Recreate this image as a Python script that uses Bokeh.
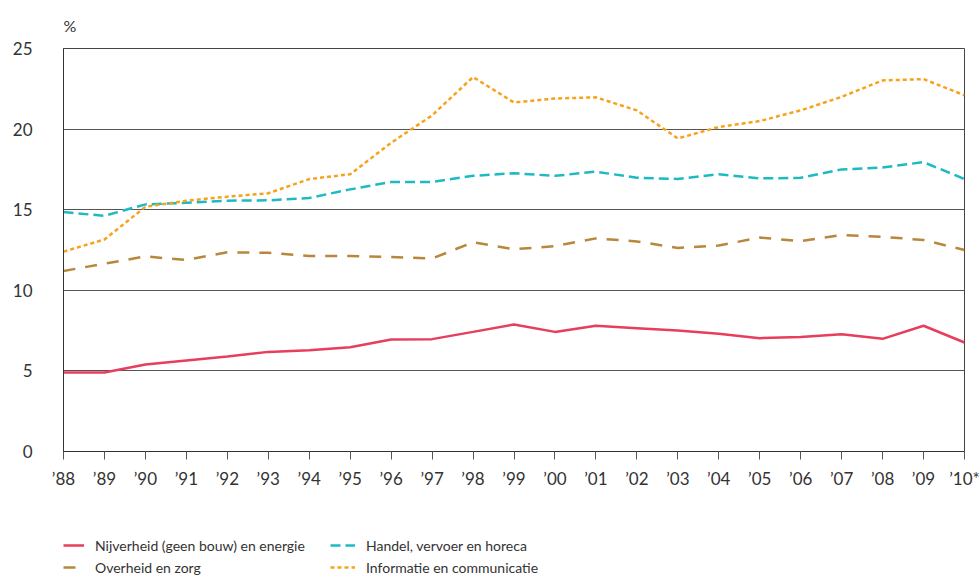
from bokeh.plotting import figure
from bokeh.layouts import column
from bokeh.models import Range1d, FixedTicker, Legend, LegendItem, Title
from bokeh.embed import file_html
from bokeh.resources import INLINE

years = list(range(1988, 2011))
year_labels = ["’88", "’89", "’90", "’91", "’92", "’93", "’94", "’95", "’96", "’97", "’98",
               "’99", "’00", "’01", "’02", "’03", "’04", "’05", "’06", "’07", "’08", "’09", "’10*"]

nijverheid = [4.9, 4.9, 5.4, 5.65, 5.9, 6.18, 6.28, 6.47, 6.95, 6.97, 7.42,
              7.88, 7.42, 7.8, 7.65, 7.5, 7.3, 7.03, 7.1, 7.27, 6.99, 7.8, 6.76]
overheid = [11.2, 11.65, 12.1, 11.88, 12.36, 12.33, 12.13, 12.13, 12.07, 11.97, 12.98,
            12.55, 12.74, 13.22, 13.03, 12.63, 12.78, 13.27, 13.05, 13.43, 13.32, 13.12, 12.5]
handel = [14.85, 14.62, 15.33, 15.43, 15.56, 15.58, 15.73, 16.26, 16.72, 16.72, 17.1,
          17.26, 17.1, 17.36, 16.98, 16.91, 17.2, 16.94, 16.98, 17.5, 17.62, 17.95, 16.9]
informatie = [12.4, 13.15, 15.18, 15.56, 15.81, 16.02, 16.9, 17.2, 19.15, 20.85, 23.23,
              21.65, 21.9, 21.97, 21.16, 19.42, 20.13, 20.5, 21.16, 22.0, 23.02, 23.1, 22.1]

names = ["Nijverheid (geen bouw) en energie", "Overheid en zorg",
         "Handel, vervoer en horeca", "Informatie en communicatie"]
colors = ["#E63E5C", "#B8873B", "#1DBAC4", "#F7A21B"]
dashes = ["solid", "12 10", "10 5", "4 3"]
y_ticks = [0, 5, 10, 15, 20, 25]

FONT = "Lato"
TXT = "#333333"

p = figure(width=980, height=517, output_backend="svg", toolbar_location=None,
           x_range=Range1d(1988, 2010), y_range=Range1d(0, 25),
           min_border_left=63, min_border_right=16, min_border_top=48, min_border_bottom=66,
           background_fill_color="white", border_fill_color="white")

p.outline_line_color = "#444444"
p.outline_line_width = 1

p.xgrid.visible = False
p.ygrid.ticker = FixedTicker(ticks=y_ticks)
p.ygrid.grid_line_color = "#555555"
p.ygrid.grid_line_width = 1

p.xaxis.ticker = FixedTicker(ticks=years)
p.xaxis.major_label_overrides = {y: l for y, l in zip(years, year_labels)}
p.xaxis.major_tick_out = 8
p.xaxis.major_tick_in = 0
p.xaxis.minor_tick_line_color = None
p.xaxis.major_tick_line_color = "#555555"
p.xaxis.axis_line_color = "#333333"
p.xaxis.major_label_text_font = FONT
p.xaxis.major_label_text_font_size = "17px"
p.xaxis.major_label_text_color = TXT
p.xaxis.major_label_standoff = 8

p.yaxis.ticker = FixedTicker(ticks=y_ticks)
p.yaxis.major_tick_out = 0
p.yaxis.major_tick_in = 0
p.yaxis.minor_tick_line_color = None
p.yaxis.axis_line_color = "#333333"
p.yaxis.major_label_text_font = FONT
p.yaxis.major_label_text_font_size = "17px"
p.yaxis.major_label_text_color = TXT
p.yaxis.major_label_standoff = 31

p.add_layout(Title(text="%", text_font=FONT, text_font_size="16px", text_color=TXT,
                   text_font_style="normal", align="left", offset=0, standoff=27), "above")

series = [nijverheid, overheid, handel, informatie]
for vals, c, d in zip(series, colors, dashes):
    p.line(years, vals, line_color=c, line_width=2.5, line_dash=d)

# legend figure below the chart (its lines fall outside its own visible range)
lf = figure(width=980, height=60, output_backend="svg", toolbar_location=None,
            x_range=Range1d(0, 1), y_range=Range1d(0, 1),
            min_border_left=63, min_border_right=16, min_border_top=0, min_border_bottom=0,
            outline_line_color=None, background_fill_color="white", border_fill_color="white")
lf.axis.visible = False
lf.grid.visible = False
proxies = [lf.line(years, vals, line_color=c, line_width=2.5, line_dash=d)
           for vals, c, d in zip(series, colors, dashes)]

def make_legend(idx, loc, gw):
    return Legend(items=[LegendItem(label=names[i], renderers=[proxies[i]]) for i in idx],
                  location=loc, orientation="vertical",
                  padding=0, margin=0, spacing=2, label_height=20, glyph_height=20,
                  glyph_width=gw, label_standoff=11,
                  label_text_font=FONT, label_text_font_size="14px", label_text_color=TXT,
                  border_line_color=None, background_fill_alpha=0)

lf.add_layout(make_legend([0, 1], (0, 0), 21), "center")
lf.add_layout(make_legend([2, 3], (267, 0), 25), "center")

open("out.html", "w").write(file_html(column(p, lf, spacing=0), INLINE))
